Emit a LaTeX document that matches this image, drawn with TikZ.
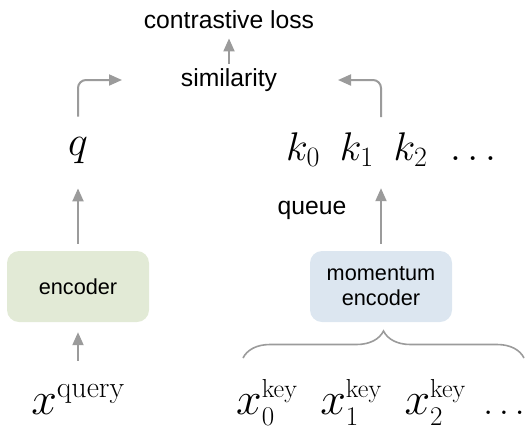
\RequirePackage{fix-cm}
\documentclass[tikz,border=0pt]{standalone}
\usepackage{fontspec}
\setsansfont{Liberation Sans}
\usetikzlibrary{arrows.meta,decorations.pathreplacing,positioning}
\definecolor{linegray}{HTML}{9B9B9B}
\definecolor{encgreen}{HTML}{E2EAD6}
\definecolor{momblue}{HTML}{DCE6F0}
\newcommand{\supsz}[2]{\mbox{\fontsize{#1}{#1}\selectfont #2}}
\tikzstyle{conn}=[draw=linegray,
                  line width=2pt,
                  -{Triangle[length=13pt,width=11pt]}]
\tikzstyle{brc}=[draw=linegray,
                 line width=1.6pt,
                 decorate,
                 decoration={brace,amplitude=27pt}]
\tikzstyle{lbl}=[inner sep=4pt,
                 font=\sffamily\fontsize{24.7}{30}\selectfont]
\tikzstyle{sym}=[inner sep=4pt]
\tikzstyle{enc}=[rounded corners=12pt,
                 minimum width=142pt,
                 minimum height=71pt,
                 align=center,
                 font=\sffamily\fontsize{21.7}{25}\selectfont]

\begin{document}
\begin{tikzpicture}[x=1pt,y=-1pt]
    \useasboundingbox (0,0) rectangle (526,429);
    % loss and similarity
    \node[lbl, anchor=base] (loss) at (229,28) {contrastive loss};
    \node[lbl, anchor=base] (sim) at (229,86) {similarity};
    \coordinate (simL) at (122,80);
    \coordinate (simR) at (338,80);
    % query branch
    \node[sym, anchor=base, font=\fontsize{42}{46}\selectfont] (q) at (78,155) {$q$};
    \node[enc, fill=encgreen] (enc) at (78,286.5) {encoder};
    \node[sym, inner sep=1pt, anchor=base, font=\fontsize{46}{50}\selectfont] (xq) at (78,414) {$x^{\supsz{30}{query}}$};
    % key branch
    \node[sym, anchor=base west, font=\fontsize{40}{44}\selectfont] (keys) at (282,160) {$k_0\hspace{.5em}k_1\hspace{.5em}k_2\hspace{.4em}\dots$};
    \node[lbl, anchor=base] (queue) at (312,214) {queue};
    \node[enc, fill=momblue] (mom) at (381,286.5) {momentum\\encoder};
    \node[sym, inner sep=1pt, anchor=base west, font=\fontsize{46}{50}\selectfont] (xk) at (235,414)
        {$x_{\supsz{27}{0}}^{\supsz{26}{key}}\hspace{.5em}x_{\supsz{27}{1}}^{\supsz{26}{key}}\hspace{.5em}x_{\supsz{27}{2}}^{\supsz{26}{key}}\hspace{.38em}\mbox{\fontsize{36}{40}\selectfont$\ldots$}$};
    \coordinate (braceL) at (243,358);
    \coordinate (braceR) at (524,358);

    \draw[conn, shorten >=6pt] (sim.north) -- (loss.south);
    \draw[conn, rounded corners=8pt, shorten <=16pt] (q.north) |- (simL);
    \draw[conn, rounded corners=8pt, shorten <=11pt] (mom.north |- keys.north) |- (simR);
    \draw[conn, shorten <=7pt, shorten >=21pt] (enc.north) -- (q.south);
    \draw[conn, shorten <=7pt, shorten >=18pt] (mom.north) -- (mom.north |- keys.south);
    \draw[conn, shorten <=22pt, shorten >=10pt] (enc.south |- xq.north) -- (enc.south);
    \draw[brc] (braceL) -- (braceR);
\end{tikzpicture}
\end{document}
